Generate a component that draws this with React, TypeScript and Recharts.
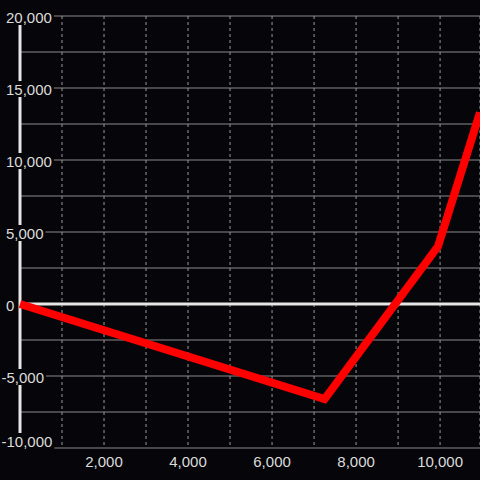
import { LineChart, Line, XAxis, YAxis, CartesianGrid, ReferenceLine } from "recharts";

const xValues = [0, 7250, 9950, 10950];
const yValues = [0, -6600, 4000, 13300];
const xTicks = [1000, 2000, 3000, 4000, 5000, 6000, 7000, 8000, 9000, 10000];
const yTicks = [-10000, -7500, -5000, -2500, 0, 2500, 5000, 7500, 10000, 12500, 15000, 17500, 20000];

const BG = "#060509";
const FONT = "'Liberation Sans', Arial, sans-serif";
const FS = 15;

const data = xValues.map((x, i) => ({ x, y: yValues[i] }));

function textWidth(s: string) {
  let w = 0;
  for (const c of s) w += c === "," ? 0.278 * FS : c === "-" ? 0.333 * FS : 0.556 * FS;
  return w;
}

function YTick(props: any) {
  const { y, payload } = props;
  const v = payload.value as number;
  if (v % 5000 !== 0) return <g />;
  const label = v.toLocaleString("en-US");
  const left = v < 0 ? 1.5 : 6;
  const cy = v === -10000 ? y - 7 : y + 1;
  return (
    <g>
      <rect x={0} y={cy - 8} width={left + textWidth(label) + 2} height={16} fill={BG} />
      <text x={left} y={cy} dominantBaseline="central" fill="#dcdcdc" fontSize={FS} fontFamily={FONT}>
        {label}
      </text>
    </g>
  );
}

function XTick(props: any) {
  const { x, y, payload } = props;
  const v = payload.value as number;
  if (v % 2000 !== 0) return <g />;
  return (
    <text x={x} y={y + 5} textAnchor="middle" dominantBaseline="central" fill="#dcdcdc" fontSize={FS} fontFamily={FONT}>
      {v.toLocaleString("en-US")}
    </text>
  );
}

export default function App() {
  return (
    <div style={{ position: "fixed", left: 0, top: 0, width: 480, height: 480, background: BG }}>
      <LineChart width={480} height={480} data={data} margin={{ top: 16, right: 0, left: 0, bottom: 0 }}>
        <CartesianGrid horizontal={true} vertical={false} stroke="#8a8a8a" strokeWidth={1} />
        <CartesianGrid horizontal={false} vertical={true} stroke="#9a9a9a" strokeDasharray="3 3" strokeWidth={1} />
        <XAxis
          dataKey="x"
          type="number"
          domain={[0, 10950]}
          ticks={xTicks}
          height={32}
          axisLine={false}
          tickLine={false}
          tick={<XTick />}
          interval={0}
        />
        <ReferenceLine x={0} stroke="#e6e6e6" strokeWidth={3} />
        <ReferenceLine y={0} stroke="#e6e6e6" strokeWidth={3} />
        <YAxis
          type="number"
          domain={[-10000, 20000]}
          ticks={yTicks}
          width={20}
          axisLine={false}
          tickLine={false}
          tick={<YTick />}
          interval={0}
        />
        <Line
          type="linear"
          dataKey="y"
          stroke="#ff0000"
          strokeWidth={8}
          dot={false}
          activeDot={false}
          isAnimationActive={false}
        />
      </LineChart>
    </div>
  );
}
